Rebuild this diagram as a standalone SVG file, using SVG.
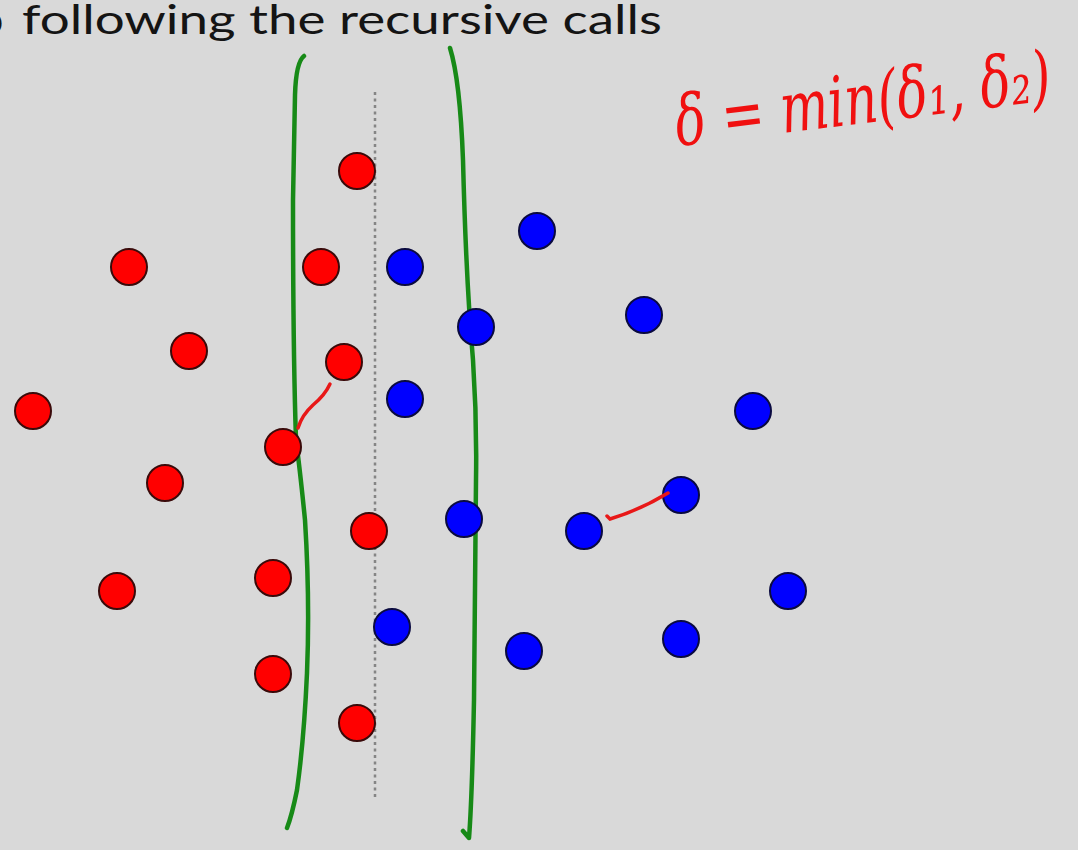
<svg xmlns="http://www.w3.org/2000/svg" width="1078" height="850" viewBox="0 0 1078 850">
  <style>
    .bg { fill: #d9d9d9; }
    .title { font-family: "Lato", "Liberation Sans", sans-serif; font-size: 41px; fill: #141414; }
    .ink { font-family: "DejaVu Serif", "Liberation Serif", serif; font-style: italic; font-size: 70px; fill: #f01010; }
    .red { fill: #ff0000; stroke: #3a0a0a; stroke-width: 2; }
    .blue { fill: #0000ff; stroke: #0a0a40; stroke-width: 2; }
    .boundary { fill: none; stroke: #178a17; stroke-width: 4.5; stroke-linecap: round; stroke-linejoin: round; }
    .median { fill: none; stroke: #858585; stroke-width: 2.5; stroke-dasharray: 3 3.5; }
    .pair { fill: none; stroke: #e81818; stroke-width: 3.5; stroke-linecap: round; }
  </style>
  <rect class="bg" x="0" y="0" width="1078" height="850"/>

  <g id="title">
    <text class="title" x="-20" y="34">o</text>
    <text class="title" x="22" y="34" textLength="640" lengthAdjust="spacingAndGlyphs">following the recursive calls</text>
  </g>

  <g id="formula">
    <text class="ink" x="678" y="146" textLength="378" lengthAdjust="spacingAndGlyphs" transform="rotate(-7 678 146)">δ = min(δ₁, δ₂)</text>
  </g>

  <g id="median">
    <line class="median" x1="375" y1="92" x2="375" y2="800"/>
  </g>

  <g id="strip">
    <path class="boundary" d="M304,56 Q296,62 295,95 L293,200 Q293,350 296,440 Q300,470 305,520 Q310,600 307,673 Q304,740 297,790 Q292,815 287,828"/>
    <path class="boundary" d="M450,48 Q460,80 463,160 Q466,280 473,360 Q477,420 476,480 L474,700 Q472,800 469,838 L463,831"/>
  </g>

  <g id="red-points">
    <circle id="r1" class="red" cx="357" cy="171" r="18"/>
    <circle id="r2" class="red" cx="129" cy="267" r="18"/>
    <circle id="r3" class="red" cx="321" cy="267" r="18"/>
    <circle id="r4" class="red" cx="189" cy="351" r="18"/>
    <circle id="r5" class="red" cx="344" cy="362" r="18"/>
    <circle id="r6" class="red" cx="33" cy="411" r="18"/>
    <circle id="r7" class="red" cx="283" cy="447" r="18"/>
    <circle id="r8" class="red" cx="165" cy="483" r="18"/>
    <circle id="r9" class="red" cx="369" cy="531" r="18"/>
    <circle id="r10" class="red" cx="117" cy="591" r="18"/>
    <circle id="r11" class="red" cx="273" cy="578" r="18"/>
    <circle id="r12" class="red" cx="273" cy="674" r="18"/>
    <circle id="r13" class="red" cx="357" cy="723" r="18"/>
  </g>

  <g id="blue-points">
    <circle id="b1" class="blue" cx="537" cy="231" r="18"/>
    <circle id="b2" class="blue" cx="405" cy="267" r="18"/>
    <circle id="b3" class="blue" cx="476" cy="327" r="18"/>
    <circle id="b4" class="blue" cx="644" cy="315" r="18"/>
    <circle id="b5" class="blue" cx="405" cy="399" r="18"/>
    <circle id="b6" class="blue" cx="753" cy="411" r="18"/>
    <circle id="b7" class="blue" cx="681" cy="495" r="18"/>
    <circle id="b8" class="blue" cx="464" cy="519" r="18"/>
    <circle id="b9" class="blue" cx="584" cy="531" r="18"/>
    <circle id="b10" class="blue" cx="788" cy="591" r="18"/>
    <circle id="b11" class="blue" cx="392" cy="627" r="18"/>
    <circle id="b12" class="blue" cx="524" cy="651" r="18"/>
    <circle id="b13" class="blue" cx="681" cy="639" r="18"/>
  </g>

  <g id="connectors">
    <path class="pair" d="M330,384 Q325,395 313,405 Q302,415 298,428"/>
    <path class="pair" d="M668,493 Q640,510 610,519 L607,516"/>
  </g>
</svg>
